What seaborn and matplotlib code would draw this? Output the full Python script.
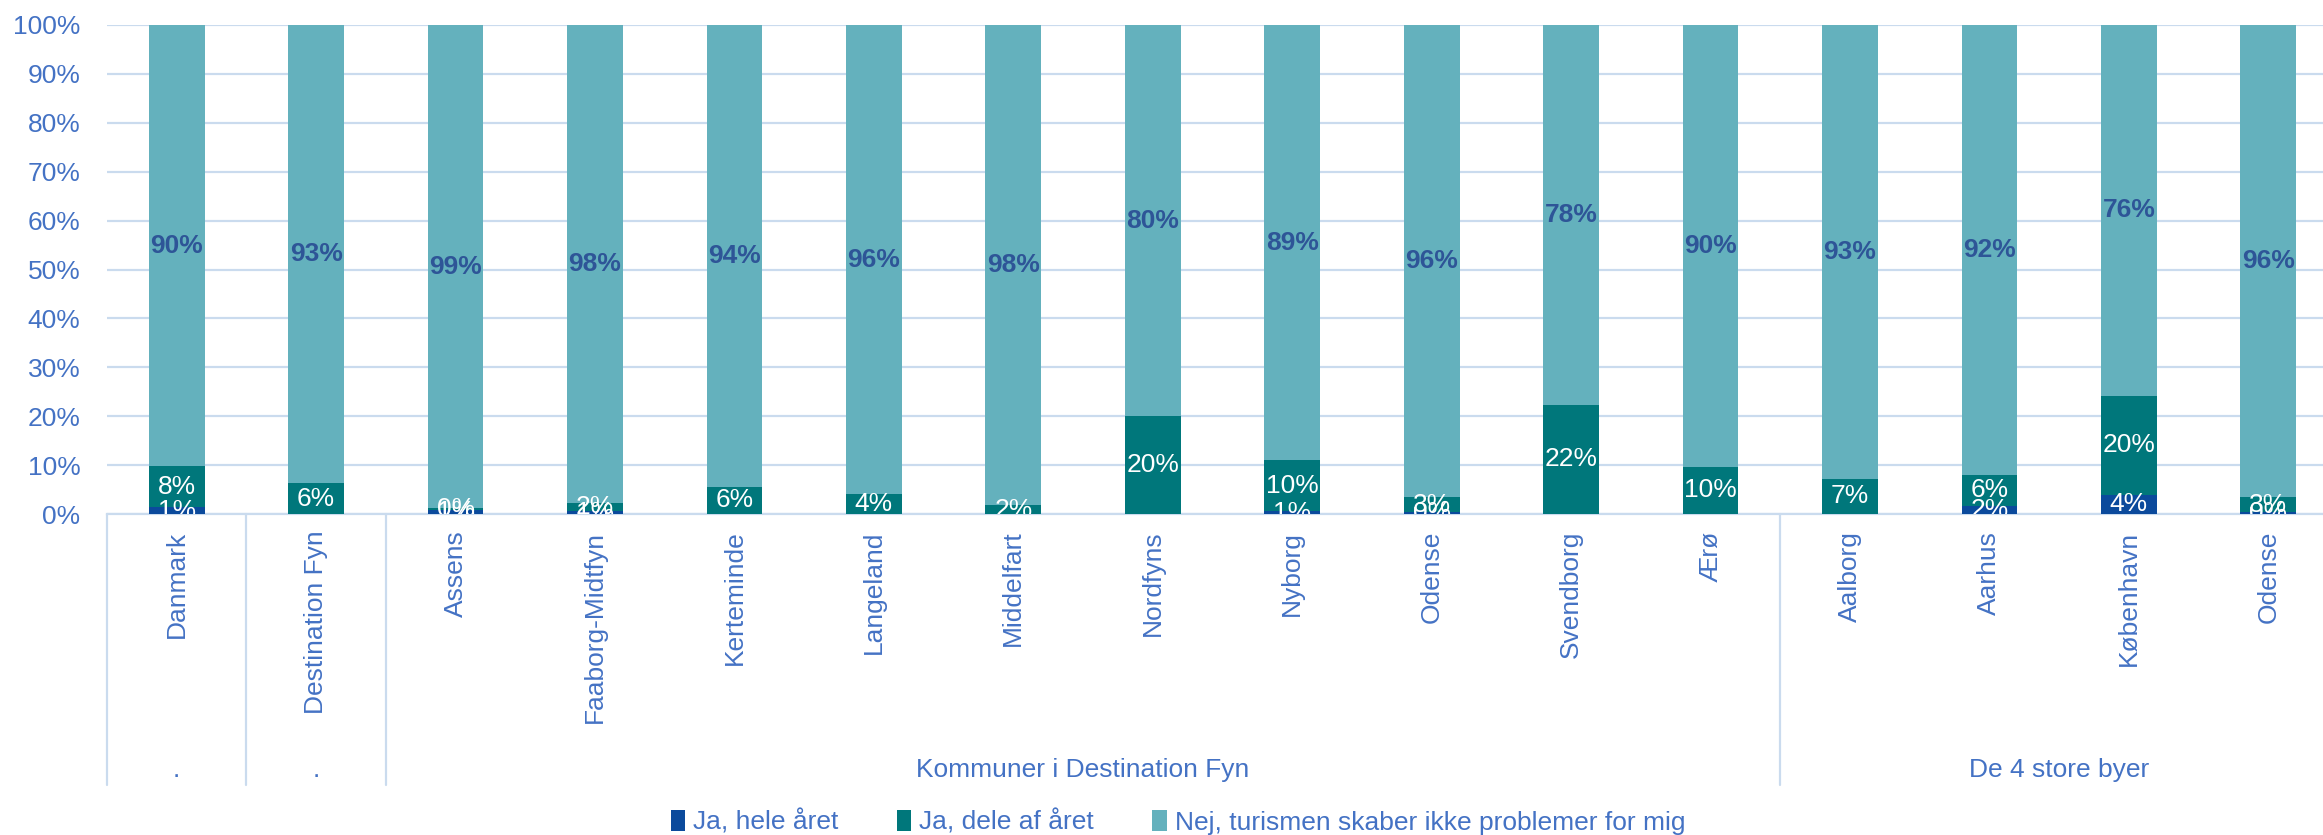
import matplotlib.pyplot as plt
import seaborn as sns
import numpy as np
import pandas as pd
from matplotlib import transforms
from matplotlib.patches import Patch

# Oplever du problemer med turisme? - andele pr. område
omraader = ["Danmark", "Destination Fyn", "Assens", "Faaborg-Midtfyn", "Kerteminde",
            "Langeland", "Middelfart", "Nordfyns", "Nyborg", "Odense", "Svendborg",
            "Ærø", "Aalborg", "Aarhus", "København", "Odense"]
hele_aaret = [1.4, 0.0, 0.8, 0.6, 0.0, 0.0, 0.0, 0.0, 0.6, 0.4, 0.0, 0.0, 0.0, 1.7, 3.9, 0.4]
dele_af_aaret = [8.4, 6.3, 0.4, 1.6, 5.6, 4.0, 1.8, 20.0, 10.4, 3.0, 22.3, 9.7, 7.2, 6.3, 20.3, 3.0]
nej_problemer = [90.2, 93.4, 98.8, 97.8, 94.4, 96.0, 98.2, 80.0, 89.0, 96.4, 77.7, 90.3, 92.8, 92.0, 75.8, 96.4]

grupper = [".", ".", "Kommuner i Destination Fyn", "De 4 store byer"]
gruppe_start = [0, 1, 2, 12]
gruppe_slut = [0, 1, 11, 15]

serier = ["Ja, hele året", "Ja, dele af året", "Nej, turismen skaber ikke problemer for mig"]
farver = ["#0B4A9C", "#00777B", "#64B1BD"]
tekstfarve = "#4472C4"
gitter = "#CADBEE"
fs = 19

df = pd.DataFrame({"pos": range(len(omraader)), "hele": hele_aaret,
                   "dele": dele_af_aaret, "nej": nej_problemer})
total = df[["hele", "dele", "nej"]].sum(axis=1)
# 100% stablet, som i Excel
df["hele_top"] = df.hele / total * 100
df["dele_top"] = (df.hele + df.dele) / total * 100
df["nej_top"] = 100.0

sns.set_style("white")
plt.rcParams["font.family"] = ["Liberation Sans", "DejaVu Sans"]

W, H = 2323, 835
fig = plt.figure(figsize=(W / 100, H / 100), dpi=100)
ax = fig.add_axes([107 / W, 1 - 514 / H, (2338 - 107) / W, (514 - 25) / H])

# tegnes bagfra og overlapper, så det ligner stablede søjler
for kol, farve in zip(["nej_top", "dele_top", "hele_top"], farver[::-1]):
    sns.barplot(data=df, x="pos", y=kol, color=farve, width=0.4, saturation=1,
                errorbar=None, ax=ax, zorder=3, linewidth=0)

ax.set_xlim(-0.5, len(omraader) - 0.5)
ax.set_ylim(0, 100)
ax.set_yticks(np.arange(0, 101, 10))
ax.set_yticklabels([f"{v}%" for v in range(0, 101, 10)])
ax.yaxis.grid(True, color=gitter, lw=1.6, zorder=0)
ax.set_axisbelow(True)
for s in ["left", "right", "top"]:
    ax.spines[s].set_visible(False)
ax.spines["bottom"].set_color(gitter)
ax.spines["bottom"].set_linewidth(1.6)
ax.tick_params(axis="y", length=0, pad=19, labelsize=fs, labelcolor=tekstfarve)
ax.tick_params(axis="x", length=0, pad=12, labelsize=fs, labelcolor=tekstfarve)
ax.set_xticks(range(len(omraader)))
ax.set_xticklabels(omraader, rotation=90, va="top")
ax.set_xlabel("")
ax.set_ylabel("")

# dataetiketter
for i, r in df.iterrows():
    segmenter = [(0, r.hele_top, r.hele, "white", "normal"),
                 (r.hele_top, r.dele_top, r.dele, "white", "normal"),
                 (r.dele_top, 100, r.nej, "#2E5597", "bold")]
    for bund, top, v, fc, fw in segmenter:
        if v <= 0:
            continue
        ax.text(i, (bund + top) / 2, f"{v:.0f}%", ha="center", va="center",
                fontsize=fs, color=fc, fontweight=fw, zorder=5, clip_on=True)

# gruppe-akse under kategorierne
trans = transforms.blended_transform_factory(ax.transData, ax.transAxes)
dyb = -(785 - 514) / (514 - 25)
for x in [-0.5, 0.5, 1.5, 11.5, 15.5]:
    ax.plot([x, x], [0, dyb], transform=trans, color=gitter, lw=1.6, clip_on=False)
for navn, a, b in zip(grupper, gruppe_start, gruppe_slut):
    ax.text((a + b) / 2, -(770 - 514) / (514 - 25), navn, transform=trans,
            ha="center", va="center", fontsize=fs, color=tekstfarve)

handles = [Patch(facecolor=f, edgecolor="none") for f in farver]
fig.legend(handles, serier, loc="center", bbox_to_anchor=(1178 / W, 1 - 822 / H),
           ncol=3, frameon=False, fontsize=fs, handlelength=0.55, handleheight=0.8,
           handletextpad=0.3, columnspacing=2.2, labelcolor=tekstfarve)

fig.savefig("out.png", dpi=100)
